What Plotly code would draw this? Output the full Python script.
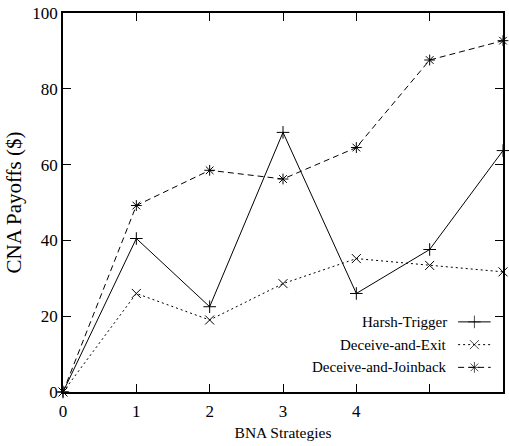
import plotly.graph_objects as go

strategies = [0, 1, 2, 3, 4, 5, 6]
harsh_trigger = [0, 40.5, 22.5, 68.5, 26, 37.6, 63.7]
deceive_exit = [0, 26, 19, 28.6, 35.2, 33.4, 31.7]
deceive_joinback = [0, 49.2, 58.5, 56.2, 64.5, 87.6, 92.7]
x_tick_vals = [0, 1, 2, 3, 4, 5]
x_tick_text = ["0", "1", "2", "3", "4", ""]
y_tick_vals = [0, 20, 40, 60, 80, 100]

series = [
    ("Harsh-Trigger", harsh_trigger, "solid", "cross-thin-open"),
    ("Deceive-and-Exit", deceive_exit, "2px,3px", "x-thin-open"),
    ("Deceive-and-Joinback", deceive_joinback, "6px,4px", "asterisk-open"),
]

FONT = "Liberation Serif"
fig = go.Figure()
for name, ys, dash, sym in series:
    fig.add_trace(go.Scatter(
        x=strategies, y=ys, mode="lines+markers", name=name,
        line=dict(color="black", width=1, dash=dash),
        marker=dict(symbol=sym, size=9, color="black", line=dict(width=1, color="black")),
        showlegend=False, cliponaxis=False,
    ))

# custom legend (text left of sample, as in the reference)
legend_y = [0.185, 0.125, 0.065]
for (name, ys, dash, sym), ly in zip(series, legend_y):
    fig.add_trace(go.Scatter(
        x=[0.898, 0.935, 0.972], y=[ly, ly, ly], xaxis="x2", yaxis="y2",
        mode="lines+markers", showlegend=False, hoverinfo="skip",
        line=dict(color="black", width=1, dash=dash),
        marker=dict(symbol=["circle-open", sym, "circle-open"], size=[0, 9, 0],
                    color="black", line=dict(width=1, color="black")),
    ))
    fig.add_annotation(x=0.877, y=ly, xref="x2", yref="y2", text=name, showarrow=False,
                       xanchor="right", yanchor="middle", font=dict(family=FONT, size=15, color="black"))

fig.update_layout(
    width=509, height=446,
    margin=dict(l=63, r=4, t=12, b=54),
    paper_bgcolor="white", plot_bgcolor="white",
    font=dict(family=FONT, size=17, color="black"),
    xaxis=dict(range=[0, 6], tickvals=x_tick_vals, ticktext=x_tick_text, ticks="inside",
               ticklen=8, tickcolor="black", showline=True, linecolor="black", linewidth=1.5,
               mirror="ticks", showgrid=False, zeroline=False, ticklabelstandoff=3,
               title=dict(text="BNA Strategies", font=dict(family=FONT, size=15.5), standoff=7)),
    yaxis=dict(range=[0, 100], tickvals=y_tick_vals, ticks="inside", ticklen=8,
               tickcolor="black", showline=True, linecolor="black", linewidth=1.5,
               mirror="ticks", showgrid=False, zeroline=False,
               title=dict(text="CNA Payoffs ($)", font=dict(family=FONT, size=21), standoff=5)),
    xaxis2=dict(range=[0, 1], overlaying="x", visible=False),
    yaxis2=dict(range=[0, 1], overlaying="y", visible=False),
)

fig.write_html("out.html", config={"displayModeBar": False},
               post_script="document.body.style.margin='0';")
